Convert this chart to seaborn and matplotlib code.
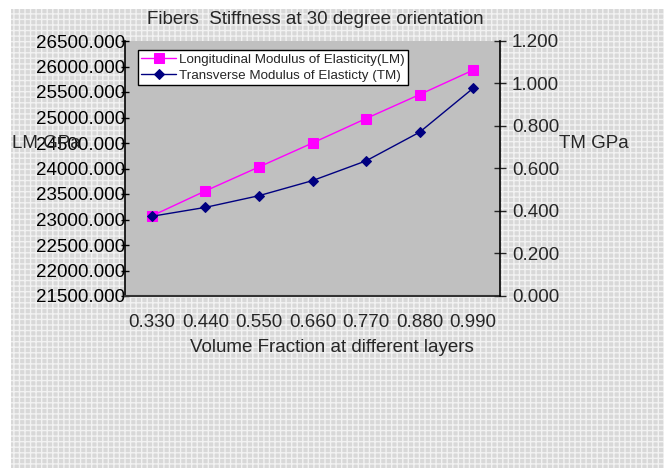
import numpy as np
import pandas as pd
import seaborn as sns
import matplotlib.pyplot as plt
from matplotlib.patches import Rectangle
from matplotlib.ticker import FixedLocator

# values
volume_fraction = ["0.330", "0.440", "0.550", "0.660", "0.770", "0.880", "0.990"]
lm_gpa = [23070, 23560, 24030, 24500, 24980, 25450, 25930]
tm_gpa = [0.375, 0.417, 0.472, 0.543, 0.636, 0.771, 0.978]
lm_ticks = [21500, 22000, 22500, 23000, 23500, 24000, 24500, 25000, 25500, 26000, 26500]
tm_ticks = [0.0, 0.2, 0.4, 0.6, 0.8, 1.0, 1.2]

sns.set_style("white")
plt.rcParams["font.family"] = ["Liberation Sans", "DejaVu Sans"]

df = pd.DataFrame({"vf": volume_fraction, "lm": lm_gpa, "tm": tm_gpa})

fig = plt.figure(figsize=(6.64, 4.68), dpi=100)
fig.patch.set_facecolor("white")
plt.rcParams["hatch.linewidth"] = 1.0
bg = Rectangle((11 / 664, 0), 1 - 11 / 664, 1 - 9 / 468, transform=fig.transFigure,
               facecolor="#d8d8d8", edgecolor="#f2f2f2", hatch="+++", lw=0, zorder=-10)
fig.patches.append(bg)

ax = fig.add_axes([125 / 664, 1 - 296 / 468, 375 / 664, 255 / 468])
ax.set_facecolor("#c0c0c0")
ax2 = ax.twinx()

sns.lineplot(data=df, x="vf", y="lm", ax=ax, color="#ff00ff", marker="s",
             markersize=7, markeredgecolor="#ff00ff", lw=1, sort=False,
             label="Longitudinal Modulus of Elasticity(LM)", legend=False)
sns.lineplot(data=df, x="vf", y="tm", ax=ax2, color="#000080", marker="D",
             markersize=5, markeredgecolor="#000080", lw=1, sort=False,
             label="Transverse Modulus of Elasticty (TM)", legend=False)

ax.set_xlim(-0.5, len(volume_fraction) - 0.5)
ax.set_ylim(lm_ticks[0], lm_ticks[-1])
ax2.set_ylim(tm_ticks[0], tm_ticks[-1])

tick_fs = 13.5
ax.set_xticks(range(len(volume_fraction)), volume_fraction)
ax.tick_params(axis="x", which="major", length=0, pad=13, labelsize=tick_fs)
ax.xaxis.set_minor_locator(FixedLocator(np.arange(-0.5, len(volume_fraction), 1)))
ax.tick_params(axis="x", which="minor", direction="inout", length=7, width=1, color="#333333")

ax.set_yticks(lm_ticks, [f"{v:.3f}" for v in lm_ticks])
ax.tick_params(axis="y", direction="inout", length=6, width=1, labelsize=tick_fs, pad=-3, colors="black")
ax2.set_yticks(tm_ticks, [f"{v:.3f}" for v in tm_ticks])
ax2.tick_params(axis="y", direction="inout", length=9, width=1, labelsize=tick_fs, pad=4)

ax.set_xlabel("")
ax.set_ylabel("")
ax2.set_ylabel("")
for a in (ax, ax2):
    a.spines["top"].set_visible(False)
    a.grid(False)
ax2.spines["left"].set_visible(False)
ax2.spines["bottom"].set_visible(False)
ax.spines["right"].set_visible(False)
ax.spines["left"].set_color("black")
ax.spines["bottom"].set_color("#333333")
ax2.spines["right"].set_color("black")
ax.spines["left"].set_linewidth(1.2)
ax.spines["bottom"].set_linewidth(1.5)
ax2.spines["right"].set_linewidth(1.2)

h1, l1 = ax.get_legend_handles_labels()
h2, l2 = ax2.get_legend_handles_labels()
leg = ax2.legend(h1 + h2, l1 + l2, loc="upper left", bbox_to_anchor=(0.035, 0.965),
                 borderaxespad=0, fontsize=9.6, frameon=True, fancybox=False,
                 edgecolor="black", framealpha=1, handlelength=2.6, handletextpad=0.2,
                 labelspacing=0.3, borderpad=0.25)
leg.get_frame().set_linewidth(1.0)

fig.text(315 / 664, 1 - 20 / 468, "Fibers  Stiffness at 30 degree orientation",
         ha="center", va="center", fontsize=13.5)
fig.text(332 / 664, 1 - 348 / 468, "Volume Fraction at different layers",
         ha="center", va="center", fontsize=13.5)
fig.text(12 / 664, 1 - 144 / 468, "LM GPa", ha="left", va="center", fontsize=13.5)
fig.text(559 / 664, 1 - 143 / 468, "TM GPa", ha="left", va="center", fontsize=13.5)

fig.savefig("out.png", dpi=100)
